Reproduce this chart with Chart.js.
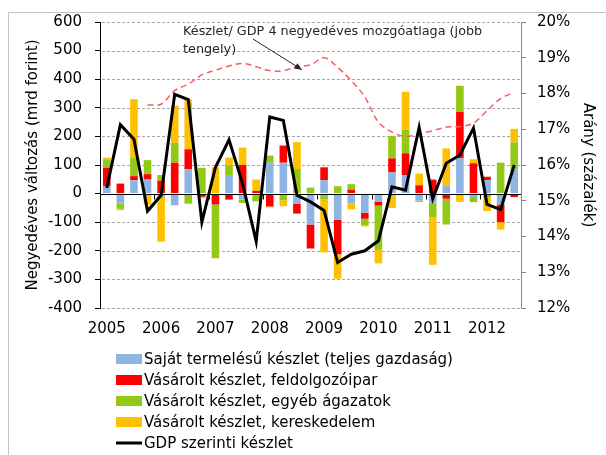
<!DOCTYPE html>
<html>
<head>
<meta charset="utf-8">
<script src="https://cdn.jsdelivr.net/npm/chart.js@4/dist/chart.umd.min.js"></script>
<style>
  html, body { margin: 0; padding: 0; background: #fff; }
  #wrap { width: 606px; height: 455px; }
</style>
</head>
<body>
<div id="wrap"><canvas id="stockChart" width="606" height="455"></canvas></div>
<script>
// Quarters 2005 Q1 - 2012 Q3
const quarters = [
  "2005Q1", "2005Q2", "2005Q3", "2005Q4",
  "2006Q1", "2006Q2", "2006Q3", "2006Q4",
  "2007Q1", "2007Q2", "2007Q3", "2007Q4",
  "2008Q1", "2008Q2", "2008Q3", "2008Q4",
  "2009Q1", "2009Q2", "2009Q3", "2009Q4",
  "2010Q1", "2010Q2", "2010Q3", "2010Q4",
  "2011Q1", "2011Q2", "2011Q3", "2011Q4",
  "2012Q1", "2012Q2", "2012Q3"
];
const yearLabels = ["2005", "2006", "2007", "2008", "2009", "2010", "2011", "2012"];
const leftTicks = [-400, -300, -200, -100, 0, 100, 200, 300, 400, 500, 600];

// mrd forint
const ownProduced = [25, -35, 47, 49, -15, -41, 85, -3, -5, 65, -21, -5, 108, 108, -35, -108,
  47, -92, -35, -67, -28, 74, 65, -24, -32, 29, 124, -12, 47, -38, 85];
const boughtManuf = [65, 35, 14, 19, 45, 108, 70, -8, -33, -21, 100, 9, -45, 60, -35, -84,
  45, -120, 14, -21, -14, 49, 76, 29, 49, -18, 162, 106, 12, -62, -12];
const boughtOther = [30, -18, 65, 49, 20, 70, -35, 90, -188, 35, -12, -22, 25, -24, 86, 21,
  -20, 26, 19, -24, -155, 79, 82, -5, -50, -90, 91, -18, -14, 108, 94];
const boughtTrade = [6, -5, 204, -39, -153, 130, 174, -5, 92, 26, 61, 40, -3, -20, 94, 0,
  -186, -86, -20, -3, -47, -50, 133, 41, -167, 129, -29, 14, -47, -26, 47];
const gdpStock = [20, 241, 190, -61, -6, 347, 329, -100, 92, 188, 35, -167, 268, 256, -6, -29,
  -59, -241, -212, -200, -165, 24, 12, 232, -18, 106, 135, 229, -38, -56, 100];

// Készlet/GDP, 4 quarter moving average (%)
const stockRatio = [null, null, null, 17.68, 17.7, 18.08, 18.26, 18.52, 18.65, 18.77, 18.84, 18.75,
  18.64, 18.64, 18.75, 18.8, 19.0, 18.73, 18.36, 17.9, 17.2, 16.92, 16.8, 16.87,
  16.96, 17.06, 17.08, 17.17, 17.52, 17.86, 18.03];

const seriesNames = [
  "Saját termelésű készlet (teljes gazdaság)",
  "Vásárolt készlet, feldolgozóipar",
  "Vásárolt készlet, egyéb ágazatok",
  "Vásárolt készlet, kereskedelem",
  "GDP szerinti készlet"
];
const ratioName = "Készlet/ GDP 4 negyedéves mozgóatlaga (jobb tengely)";
const annotationLines = ["Készlet/ GDP 4 negyedéves mozgóatlaga (jobb", "tengely)"];

const FONT = "'DejaVu Sans', sans-serif";

// Frame, dashed grid, zero line and year ticks
const framePlugin = {
  id: 'frame',
  beforeDraw(chart) {
    const ctx = chart.ctx;
    ctx.save();
    ctx.strokeStyle = '#c4c4c4';
    ctx.lineWidth = 1;
    ctx.beginPath();
    ctx.moveTo(8.5, 455);
    ctx.lineTo(8.5, 12.5);
    ctx.lineTo(606, 12.5);
    ctx.stroke();
    ctx.restore();
  },
  beforeDatasetsDraw(chart) {
    // dashes built from short segments
    const ctx = chart.ctx;
    const y = chart.scales.y;
    const area = chart.chartArea;
    ctx.save();
    ctx.fillStyle = '#a6a6a6';
    leftTicks.forEach(v => {
      if (v === 0) return;
      const py = Math.round(y.getPixelForValue(v));
      for (let px = Math.round(area.left) + 2; px < area.right; px += 5) {
        ctx.fillRect(px, py, Math.min(3, area.right - px), 1);
      }
    });
    ctx.restore();
  },
  afterDatasetsDraw(chart) {
    const ctx = chart.ctx;
    const x = chart.scales.x, y = chart.scales.y;
    const area = chart.chartArea;
    const y0 = Math.round(y.getPixelForValue(0)) + 0.5;
    ctx.save();
    ctx.strokeStyle = '#000';
    ctx.lineWidth = 1;
    ctx.beginPath();
    ctx.moveTo(area.left, y0);
    ctx.lineTo(area.right, y0);
    for (let i = 4; i < quarters.length; i += 4) {
      const bx = Math.round((x.getPixelForValue(i - 1) + x.getPixelForValue(i)) / 2) + 0.5;
      ctx.moveTo(bx, y0);
      ctx.lineTo(bx, y0 + 5);
    }
    ctx.stroke();
    ctx.restore();
  }
};

// Annotation text with arrow onto the ratio line
const annotationPlugin = {
  id: 'note',
  afterDraw(chart) {
    const ctx = chart.ctx;
    const x = chart.scales.x, y2 = chart.scales.y2;
    ctx.save();
    ctx.fillStyle = '#262626';
    ctx.font = "12.8px " + FONT;
    ctx.textBaseline = 'middle';
    ctx.textAlign = 'left';
    ctx.fillText(annotationLines[0], 183, 32);
    ctx.fillText(annotationLines[1], 183, 50);
    const tipX = x.getPixelForValue(14) + 5;
    const tipY = y2.getPixelForValue(stockRatio[14]) + 3;
    const sx = 253, sy = 39;
    ctx.strokeStyle = '#262626';
    ctx.lineWidth = 1;
    ctx.beginPath();
    ctx.moveTo(sx, sy);
    ctx.lineTo(tipX, tipY);
    ctx.stroke();
    const ang = Math.atan2(tipY - sy, tipX - sx);
    ctx.beginPath();
    ctx.moveTo(tipX, tipY);
    ctx.lineTo(tipX - 8 * Math.cos(ang - 0.4), tipY - 8 * Math.sin(ang - 0.4));
    ctx.lineTo(tipX - 8 * Math.cos(ang + 0.4), tipY - 8 * Math.sin(ang + 0.4));
    ctx.closePath();
    ctx.fillStyle = '#262626';
    ctx.fill();
    ctx.restore();
  }
};

// Vertical legend below the plot
const legendPlugin = {
  id: 'vlegend',
  afterDraw(chart) {
    const ctx = chart.ctx;
    const left = 116, textX = 144, top = 359, step = 21;
    ctx.save();
    ctx.font = "15px " + FONT;
    ctx.textBaseline = 'middle';
    ctx.textAlign = 'left';
    seriesNames.forEach((name, i) => {
      const ds = chart.data.datasets.find(d => d.label === name);
      const cy = top + i * step;
      if (ds.type === 'line') {
        ctx.strokeStyle = ds.borderColor;
        ctx.lineWidth = 3;
        ctx.beginPath();
        ctx.moveTo(left, cy);
        ctx.lineTo(left + 26, cy);
        ctx.stroke();
      } else {
        ctx.fillStyle = ds.backgroundColor;
        ctx.fillRect(left, cy - 5, 26, 10);
      }
      ctx.fillStyle = '#000';
      ctx.fillText(name, textX, cy + 1);
    });
    ctx.restore();
  }
};

const barOpts = { type: 'bar', barPercentage: 0.56, categoryPercentage: 1, stack: 'parts', order: 2, yAxisID: 'y' };

new Chart(document.getElementById('stockChart'), {
  data: {
    labels: quarters,
    datasets: [
      { ...barOpts, label: seriesNames[0], data: ownProduced, backgroundColor: '#8db4e2' },
      { ...barOpts, label: seriesNames[1], data: boughtManuf, backgroundColor: '#ff0000' },
      { ...barOpts, label: seriesNames[2], data: boughtOther, backgroundColor: '#92c816' },
      { ...barOpts, label: seriesNames[3], data: boughtTrade, backgroundColor: '#ffc000' },
      {
        type: 'line', label: seriesNames[4], data: gdpStock, yAxisID: 'y', stack: 'gdp', order: 0,
        borderColor: '#000', borderWidth: 3, pointRadius: 0, tension: 0, fill: false
      },
      {
        type: 'line', label: ratioName, data: stockRatio, yAxisID: 'y2', order: 1,
        borderColor: '#ff5a5a', borderWidth: 1.5, borderDash: [6, 4], pointRadius: 0,
        tension: 0.35, fill: false, spanGaps: false
      }
    ]
  },
  options: {
    responsive: false,
    animation: false,
    layout: { padding: { top: 21, left: 0, right: 0, bottom: 0 } },
    plugins: {
      legend: { display: false },
      tooltip: { enabled: false },
      title: { display: false }
    },
    scales: {
      x: {
        stacked: true,
        offset: true,
        grid: { display: false, drawTicks: false },
        border: { display: false },
        ticks: {
          autoSkip: false, maxRotation: 0, padding: 12, color: '#000',
          font: { family: FONT, size: 15 },
          callback: (v, i) => (i % 4 === 0 ? yearLabels[i / 4] : '')
        },
        afterFit: s => { s.height = 147; }
      },
      y: {
        position: 'left',
        stacked: true,
        min: leftTicks[0], max: leftTicks[leftTicks.length - 1],
        ticks: { stepSize: 100, padding: 13, color: '#000', font: { family: FONT, size: 15 } },
        grid: { drawOnChartArea: false, tickColor: '#000', tickLength: 5 },
        border: { display: true, color: '#000', width: 1 },
        title: {
          display: true, text: 'Negyedéves változás (mrd forint)', color: '#000',
          font: { family: FONT, size: 15 }, padding: { top: 24, bottom: 0 }
        },
        afterFit: s => { s.width = 100; }
      },
      y2: {
        position: 'right',
        min: 12, max: 20,
        ticks: {
          stepSize: 1, padding: 11, color: '#000', font: { family: FONT, size: 15 },
          callback: v => v + '%'
        },
        grid: { drawOnChartArea: false, tickColor: '#888', tickLength: 5 },
        border: { display: true, color: '#888', width: 1 },
        title: {
          display: true, text: 'Arány (százalék)', color: '#000',
          font: { family: FONT, size: 15 }, padding: { top: 9, bottom: 0 }
        },
        afterFit: s => { s.width = 85; }
      }
    }
  },
  plugins: [framePlugin, annotationPlugin, legendPlugin]
});
</script>
</body>
</html>
